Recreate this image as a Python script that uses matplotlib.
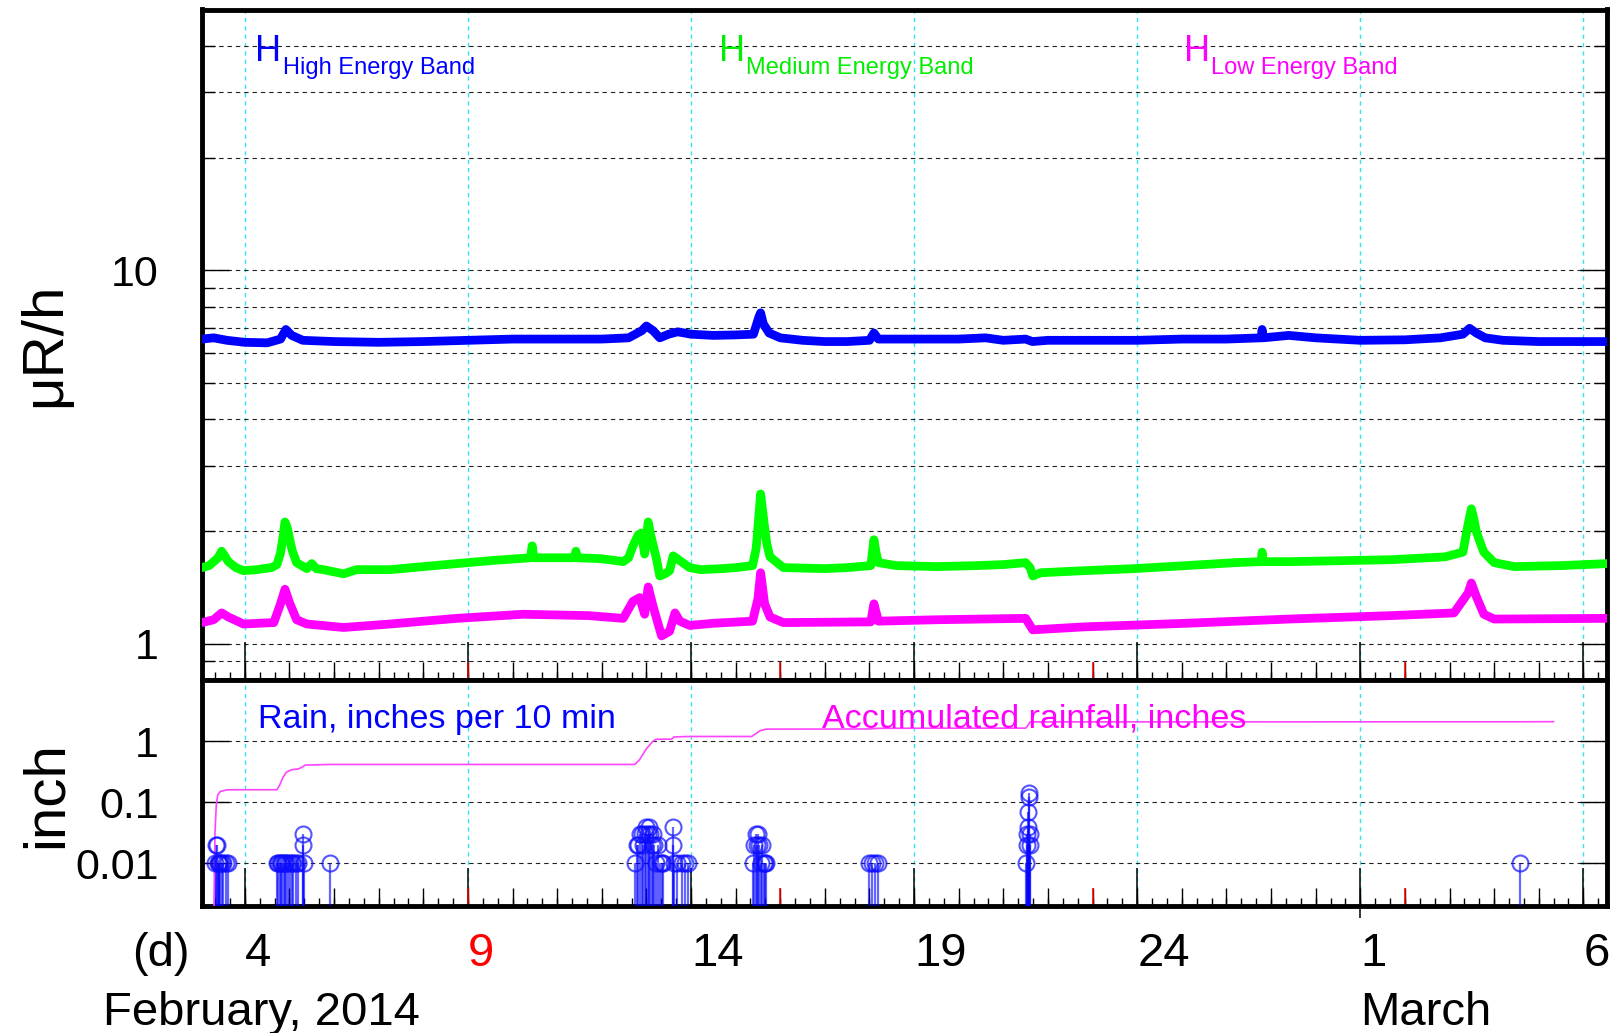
import numpy as np
import matplotlib.pyplot as plt
from matplotlib.ticker import LogLocator, NullFormatter

plt.rcParams['font.family'] = ['Liberation Sans', 'DejaVu Sans']

# days are counted as day-of-February (Mar 1 = 29)
HIGH_DAY = [3.04, 3.3, 3.6, 4.0, 4.5, 4.8, 4.92, 5.05, 5.3, 6.0, 7.0, 8.0, 9.0, 10.0, 11.0, 12.0,
            12.6, 12.9, 13.0, 13.15, 13.3, 13.5, 13.7, 14.0, 14.5, 15.0, 15.4, 15.52, 15.56, 15.62,
            15.75, 16.0, 16.5, 17.0, 17.5, 18.0, 18.1, 18.2, 19.0, 20.0, 20.6, 21.0, 21.5, 21.65,
            22.0, 23.0, 24.0, 25.0, 26.0, 26.78, 26.8, 26.82, 27.4, 28.0, 29.0, 30.0, 30.8, 31.3,
            31.45, 31.6, 31.8, 32.2, 33.0, 34.0, 34.53]
HIGH_VAL = [6.55, 6.6, 6.5, 6.42, 6.4, 6.55, 6.95, 6.7, 6.5, 6.45, 6.42, 6.45, 6.5, 6.55, 6.55, 6.55,
            6.6, 6.9, 7.1, 6.9, 6.6, 6.75, 6.85, 6.75, 6.7, 6.72, 6.75, 7.5, 7.7, 7.2,
            6.8, 6.6, 6.5, 6.45, 6.45, 6.5, 6.8, 6.55, 6.55, 6.55, 6.6, 6.5, 6.55, 6.45,
            6.5, 6.5, 6.5, 6.55, 6.55, 6.6, 6.95, 6.6, 6.7, 6.6, 6.5, 6.52, 6.6, 6.75,
            7.0, 6.8, 6.6, 6.5, 6.45, 6.45, 6.45]

MED_DAY = [3.04, 3.2, 3.4, 3.48, 3.55, 3.63, 3.8, 3.97, 4.27, 4.6, 4.72, 4.8, 4.86, 4.9, 4.95, 5.0,
           5.06, 5.16, 5.39, 5.5, 5.6, 5.76, 6.21, 6.51, 7.26, 8.0, 8.75, 9.5, 10.4, 10.44, 10.48,
           11.38, 11.42, 11.46, 12.0, 12.48, 12.6, 12.7, 12.82, 12.89, 12.96, 13.04, 13.1, 13.15,
           13.22, 13.3, 13.42, 13.52, 13.6, 13.66, 13.75, 13.97, 14.22, 14.69, 15.0, 15.38, 15.46,
           15.5, 15.56, 15.6, 15.65, 15.7, 15.77, 16.07, 17.0, 17.5, 18.03, 18.1, 18.15, 18.2, 18.6,
           19.5, 20.4, 21.0, 21.5, 21.6, 21.66, 21.84, 22.8, 23.93, 25.1, 26.2, 26.78, 26.8, 26.82,
           27.4, 28.6, 29.7, 30.9, 31.3, 31.42, 31.49, 31.55, 31.6, 31.7, 31.77, 32.0, 32.45, 33.5,
           34.53]
MED_VAL = [1.60, 1.62, 1.70, 1.77, 1.72, 1.66, 1.60, 1.57, 1.58, 1.60, 1.63, 1.75, 1.95, 2.12, 2.05,
           1.92, 1.78, 1.65, 1.59, 1.64, 1.59, 1.58, 1.54, 1.58, 1.58, 1.61, 1.64, 1.67, 1.70, 1.83,
           1.70, 1.70, 1.77, 1.70, 1.69, 1.66, 1.70, 1.83, 1.96, 1.98, 1.74, 2.12, 1.95, 1.84,
           1.70, 1.52, 1.54, 1.57, 1.72, 1.70, 1.67, 1.60, 1.58, 1.59, 1.60, 1.62, 1.80,
           2.05, 2.52, 2.30, 2.05, 1.85, 1.71, 1.60, 1.59, 1.60, 1.62, 1.90, 1.75, 1.65, 1.62,
           1.61, 1.62, 1.63, 1.65, 1.60, 1.52, 1.55, 1.57, 1.59, 1.62, 1.65, 1.66, 1.76, 1.66,
           1.66, 1.67, 1.68, 1.71, 1.76, 2.10, 2.30, 2.15, 2.00, 1.85, 1.76, 1.65, 1.61, 1.62,
           1.64]

LOW_DAY = [3.04, 3.3, 3.48, 3.63, 3.97, 4.65, 4.8, 4.9, 5.0, 5.16, 5.39, 6.21, 7.26, 8.75, 10.24,
           11.7, 12.48, 12.7, 12.85, 12.96, 13.04, 13.15, 13.34, 13.52, 13.64, 13.75, 13.97, 14.5,
           15.38, 15.5, 15.56, 15.65, 15.77, 16.07, 18.03, 18.1, 18.2, 19.5, 21.5, 21.66, 22.8,
           25.1, 27.4, 29.7, 31.1, 31.42, 31.49, 31.6, 31.77, 32.0, 34.53]
LOW_VAL = [1.14, 1.16, 1.21, 1.18, 1.13, 1.14, 1.28, 1.40, 1.29, 1.16, 1.13, 1.106, 1.13, 1.17, 1.20,
           1.19, 1.17, 1.30, 1.33, 1.20, 1.42, 1.26, 1.05, 1.08, 1.21, 1.15, 1.12, 1.135,
           1.15, 1.32, 1.55, 1.28, 1.18, 1.14, 1.145, 1.28, 1.15, 1.16, 1.17, 1.09, 1.11,
           1.135, 1.165, 1.19, 1.21, 1.37, 1.455, 1.34, 1.20, 1.165, 1.17]

RAIN_DAY = [3.33, 3.35, 3.37, 3.39, 3.41, 3.43, 3.45, 3.48, 3.52, 3.57, 3.62,
            4.72, 4.75, 4.78, 4.81, 4.84, 4.87, 4.90, 4.93, 4.97, 5.01, 5.05, 5.09, 5.14, 5.19,
            5.30, 5.31, 5.33, 5.91,
            12.74, 12.78, 12.82, 12.86, 12.90, 12.93, 12.96, 13.00, 13.03, 13.06, 13.09, 13.12,
            13.15, 13.18, 13.22, 13.26, 13.30, 13.34, 13.37,
            13.59, 13.60, 13.62, 13.68, 13.79, 13.87, 13.94,
            15.38, 15.42, 15.45, 15.48, 15.50, 15.53, 15.56, 15.60, 15.63, 15.66, 15.68,
            18.00, 18.06, 18.12, 18.18,
            21.50, 21.52, 21.54, 21.55, 21.56, 21.57, 21.58, 21.59, 21.60,
            32.57]
RAIN_IN = [0.01, 0.02, 0.02, 0.01, 0.01, 0.01, 0.01, 0.01, 0.01, 0.01, 0.01,
           0.01, 0.01, 0.01, 0.01, 0.01, 0.01, 0.01, 0.01, 0.01, 0.01, 0.01, 0.01, 0.01, 0.01,
           0.03, 0.02, 0.01, 0.01,
           0.01, 0.02, 0.02, 0.03, 0.03, 0.02, 0.03, 0.04, 0.03, 0.04, 0.03, 0.02,
           0.03, 0.02, 0.01, 0.02, 0.01, 0.01, 0.01,
           0.04, 0.02, 0.01, 0.01, 0.01, 0.01, 0.01,
           0.01, 0.02, 0.03, 0.02, 0.03, 0.02, 0.01, 0.02, 0.01, 0.01, 0.01,
           0.01, 0.01, 0.01, 0.01,
           0.01, 0.02, 0.03, 0.04, 0.07, 0.12, 0.14, 0.03, 0.02,
           0.01]

ACC_DAY = [3.31, 3.33, 3.36, 3.39, 3.45, 3.62, 4.72, 4.78, 4.85, 4.93, 5.05, 5.2, 5.3, 5.35, 5.91,
           12.74, 12.85, 13.0, 13.15, 13.22, 13.57, 13.62, 13.94, 15.36, 15.45, 15.55, 15.69,
           18.0, 18.2, 21.5, 21.55, 21.6, 32.57, 33.33]
ACC_IN = [0.002, 0.03, 0.09, 0.13, 0.15, 0.16, 0.16, 0.19, 0.25, 0.31, 0.34, 0.35, 0.38, 0.405, 0.415,
          0.415, 0.5, 0.75, 1.0, 1.07, 1.08, 1.17, 1.19, 1.19, 1.32, 1.48, 1.57,
          1.58, 1.62, 1.63, 1.8, 2.06, 2.07, 2.08]

DAY_LABELS = ['4', '9', '14', '19', '24', '1', '6']
DAY_LABEL_POS = [4, 9, 14, 19, 24, 29, 34]
SUNDAYS = [9, 16, 23, 30]

W, H = 1616, 1033
L, R, T, MID, B = 202, 1607, 9.5, 680, 906

fig = plt.figure(figsize=(W / 100, H / 100), dpi=100)
ax1 = fig.add_axes([L / W, 1 - MID / H, (R - L) / W, (MID - T) / H])
ax2 = fig.add_axes([L / W, 1 - B / H, (R - L) / W, (B - MID) / H])

ax1.set_ylim(0.8, 50)
ax2.set_ylim(0.002, 10)

cyan = '#2ee6f0'
for ax, h in ((ax1, MID - T), (ax2, B - MID)):
    ax.set_xlim(3.04, 34.53)
    ax.set_yscale('log')
    ax.set_xticks([])
    for s in ax.spines.values():
        s.set_linewidth(3.5)
    ax.yaxis.set_minor_locator(LogLocator(subs=np.arange(2, 10)))
    ax.yaxis.set_minor_formatter(NullFormatter())
    ax.tick_params(axis='y', which='both', direction='in', left=True, right=True,
                   width=1, labelsize=31, pad=31)
    ax.tick_params(axis='y', which='major', length=19.5)
    ax.tick_params(axis='y', which='minor', length=9.7)
    # x ticks: every 8 h, every day, every 5 days
    tr = ax.get_xaxis_transform()
    k = np.arange(10, 104)
    ax.vlines(k / 3, 0, 8 / h, transform=tr, colors='k', lw=1)
    days = np.arange(4, 35)
    ax.vlines(days, 0, 18 / h, transform=tr, colors='k', lw=1)
    ax.vlines(DAY_LABEL_POS, 0, 38 / h, transform=tr, colors='k', lw=1.1)
    ax.vlines(SUNDAYS, 0, 18 / h, transform=tr, colors='red', lw=1.1)
    for d in DAY_LABEL_POS:
        ax.axvline(d, color=cyan, ls=(0, (3, 3)), lw=1, zorder=0.5)

ax1.set_yticks([1, 10])
ax1.set_yticklabels(['1', '10'])
ax2.set_yticks([0.01, 0.1, 1])
ax2.set_yticklabels(['0.01', '0.1', '1'])

ax1.grid(True, which='both', axis='y', color='#222222', ls=(0, (4, 3.5)), lw=0.8)
ax2.grid(True, which='major', axis='y', color='#222222', ls=(0, (4, 3.5)), lw=0.8)

# month tick sticking out below the bottom frame
ax2.vlines([29], -0.055, 0, transform=ax2.get_xaxis_transform(), colors='k', lw=1.1,
           clip_on=False)

lw_band = 6.3
ax1.plot(HIGH_DAY, HIGH_VAL, color='#0000ff', lw=lw_band, solid_joinstyle='round',
         solid_capstyle='round', zorder=3)
ax1.plot(MED_DAY, MED_VAL, color='#00ff00', lw=lw_band, solid_joinstyle='round',
         solid_capstyle='round', zorder=3)
ax1.plot(LOW_DAY, LOW_VAL, color='#ff00ff', lw=lw_band, solid_joinstyle='round',
         solid_capstyle='round', zorder=3)

ax2.vlines(RAIN_DAY, 0.002, RAIN_IN, colors=(0, 0, 1, 0.6), lw=1.6, zorder=3)
ax2.plot(RAIN_DAY, RAIN_IN, 'o', mfc='none', mec=(0.05, 0.05, 1, 0.7), ms=11.5, mew=1.5,
         zorder=4)
ax2.plot(ACC_DAY, ACC_IN, color='#ff44ff', lw=1.2, zorder=3)


def fxy(x, y):
    return x / W, 1 - y / H


# legend of the upper panel
for hx, tx, label, col in ((255, 283, 'High Energy Band', '#0000ff'),
                           (719, 746, 'Medium Energy Band', '#00ee00'),
                           (1184, 1211, 'Low Energy Band', '#ff00ff')):
    fig.text(*fxy(hx, 61), 'H', fontsize=26, color=col, va='baseline')
    fig.text(*fxy(tx, 74), label, fontsize=17, color=col, va='baseline')

fig.text(*fxy(258, 728), 'Rain, inches per 10 min', fontsize=24.5, color='#0000ff',
         va='baseline')
fig.text(*fxy(822, 728), 'Accumulated rainfall, inches', fontsize=24.5, color='#ff00ff',
         va='baseline')

fig.text(*fxy(60, 345), 'μR/h', fontsize=42, rotation=90, rotation_mode='anchor',
         ha='center', va='baseline')
fig.text(*fxy(62, 795), 'inch', fontsize=42, rotation=90, rotation_mode='anchor',
         ha='center', va='baseline')

# day labels under the lower panel
xt = ax2.get_xaxis_transform()
yb = -(966 - B) / (B - MID)
for d, lab in zip(DAY_LABEL_POS, DAY_LABELS):
    ax2.text(d, yb, lab, transform=xt, fontsize=34, va='baseline', ha='left',
             color='red' if d in SUNDAYS else 'k')
fig.text(*fxy(132, 966), '(d)', fontsize=34, va='baseline')
fig.text(*fxy(103, 1025), 'February, 2014', fontsize=34, va='baseline')
ax2.text(29, -(1025 - B) / (B - MID), 'March', transform=xt, fontsize=34, va='baseline',
         ha='left')

fig.savefig('out.png', dpi=100)
